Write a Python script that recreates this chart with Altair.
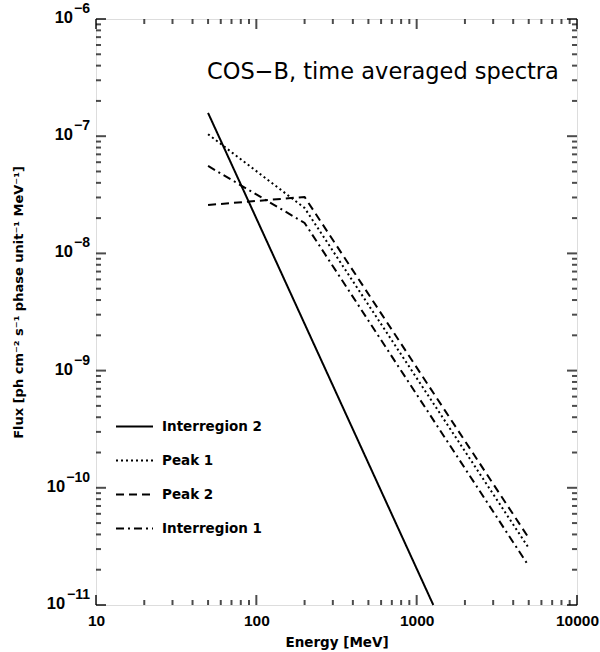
import math
import altair as alt
import pandas as pd

# Time-averaged COS-B spectra: broken power laws, energy in MeV, flux per phase unit
series_names = ["Interregion 2", "Peak 1", "Peak 2", "Interregion 1"]

interregion2_energy = [50, 1270]
interregion2_flux = [1.58e-7, 1.0e-11]

peak1_energy = [50, 200, 5000]
peak1_flux = [1.04e-7, 2.44e-8, 3.06e-11]

peak2_energy = [50, 200, 5000]
peak2_flux = [2.59e-8, 3.03e-8, 3.73e-11]

interregion1_energy = [50, 200, 5000]
interregion1_flux = [5.57e-8, 1.82e-8, 2.15e-11]

x_major = [10, 100, 1000, 10000]
x_minor = [20, 30, 40, 50, 60, 70, 80, 90,
           200, 300, 400, 500, 600, 700, 800, 900,
           2000, 3000, 4000, 5000, 6000, 7000, 8000, 9000]
y_major = [1e-11, 1e-10, 1e-9, 1e-8, 1e-7, 1e-6]
y_minor = [m * 10.0 ** e for e in range(-11, -6) for m in range(2, 10)]

W, H = 481, 586
FONT = "DejaVu Sans"
LABEL_FONT = "Liberation Sans"

rows = []
for name, es, fs in [
    ("Interregion 2", interregion2_energy, interregion2_flux),
    ("Peak 1", peak1_energy, peak1_flux),
    ("Peak 2", peak2_energy, peak2_flux),
    ("Interregion 1", interregion1_energy, interregion1_flux),
]:
    for i, (e, f) in enumerate(zip(es, fs)):
        rows.append({"series": name, "E": e, "F": f, "i": i})
lines_df = pd.DataFrame(rows)

x_scale = alt.Scale(type="log", domain=[10, 10000], nice=False)
y_scale = alt.Scale(type="log", domain=[1e-11, 1e-6], nice=False)

x_axis = alt.Axis(values=x_major, format="d", ticks=False, domain=False, grid=False,
                  title="Energy [MeV]", labelFontSize=15.5, labelFont=LABEL_FONT,
                  labelFontWeight="bold", labelColor="black", labelPadding=8,
                  titleFont=FONT, titleFontSize=13.5, titleFontWeight="bold",
                  titleColor="black", titlePadding=7, labelFlush=False)
y_axis = alt.Axis(values=y_major, labels=False, ticks=False, domain=False, grid=False,
                  title="Flux [ph cm\u207b\u00b2 s\u207b\u00b9 phase unit\u207b\u00b9 MeV\u207b\u00b9]",
                  titleFont=FONT, titleFontSize=13, titleFontWeight="bold",
                  titleColor="black", titleX=-78, titleY=283, titleAngle=270,
                  titleAlign="center", titleBaseline="middle")

lines = alt.Chart(lines_df).mark_line(color="black", strokeWidth=2).encode(
    x=alt.X("E:Q", scale=x_scale, axis=x_axis),
    y=alt.Y("F:Q", scale=y_scale, axis=y_axis),
    strokeDash=alt.StrokeDash(
        "series:N",
        scale=alt.Scale(domain=series_names,
                        range=[[1, 0], [2, 3], [8, 5], [8, 4, 2, 4]]),
        legend=alt.Legend(title=None, orient="none", legendX=19, legendY=388,
                          symbolType="stroke", symbolSize=1369, symbolStrokeWidth=2,
                          symbolStrokeColor="black", labelFont=FONT, labelFontSize=13.5,
                          labelFontWeight="bold", labelColor="black", labelOffset=8,
                          rowPadding=8),
    ),
    order="i:Q",
    detail="series:N",
)

def xticks(values, length, top):
    df = pd.DataFrame({"E": values})
    return alt.Chart(df).mark_tick(orient="vertical", color="black", thickness=2, size=length).encode(
        x=alt.X("E:Q", scale=x_scale, axis=x_axis),
        y=alt.value(length / 2 if top else H - length / 2),
    )

def yticks(values, length, right):
    df = pd.DataFrame({"F": values})
    return alt.Chart(df).mark_tick(orient="horizontal", color="black", thickness=2, size=length).encode(
        y=alt.Y("F:Q", scale=y_scale, axis=y_axis),
        x=alt.value(W - length / 2 if right else length / 2),
    )

tick_layers = [
    xticks(x_major, 10, False), xticks(x_minor, 5, False),
    xticks(x_major, 10, True), xticks(x_minor, 5, True),
    yticks(y_major, 10, False), yticks(y_minor, 5, False),
    yticks(y_major, 10, True), yticks(y_minor, 5, True),
]

# Decade labels on the flux axis: "10" followed by a raised exponent
ylab_df = pd.DataFrame({
    "F": y_major,
    "exp": ["\u2212" + str(abs(round(math.log10(v)))) for v in y_major],
})
ylab_base = alt.Chart(ylab_df).transform_calculate(
    px="-7 - 8.2 - 7.8 * (length(datum.exp) - 1)"
)
ylab_exp = ylab_base.mark_text(
    align="right", baseline="middle", font=LABEL_FONT, fontSize=14, fontWeight="bold",
    color="black", dx=-6, dy=-10
).encode(y=alt.Y("F:Q", scale=y_scale, axis=y_axis), x=alt.value(0), text="exp:N")
ylab_ten = ylab_base.mark_text(
    align="right", baseline="middle", font=LABEL_FONT, fontSize=16.5, fontWeight="bold",
    color="black", dy=-1
).encode(y=alt.Y("F:Q", scale=y_scale, axis=y_axis),
         x=alt.X("px:Q", scale=None), text=alt.value("10"))

title_text = alt.Chart(pd.DataFrame({"t": ["COS\u2212B, time averaged spectra"]})).mark_text(
    align="left", baseline="middle", font=FONT, fontSize=22.5, color="black"
).encode(x=alt.value(111), y=alt.value(53), text="t:N")

chart = alt.layer(lines, *tick_layers, ylab_exp, ylab_ten, title_text).properties(
    width=W, height=H,
    autosize=alt.AutoSizeParams(type="none"),
    padding={"left": 96, "top": 19, "right": 23, "bottom": 47},
).configure_view(stroke="black", strokeWidth=2).configure(background="white")

chart.save("out.html", embed_options={"renderer": "svg", "actions": False})
